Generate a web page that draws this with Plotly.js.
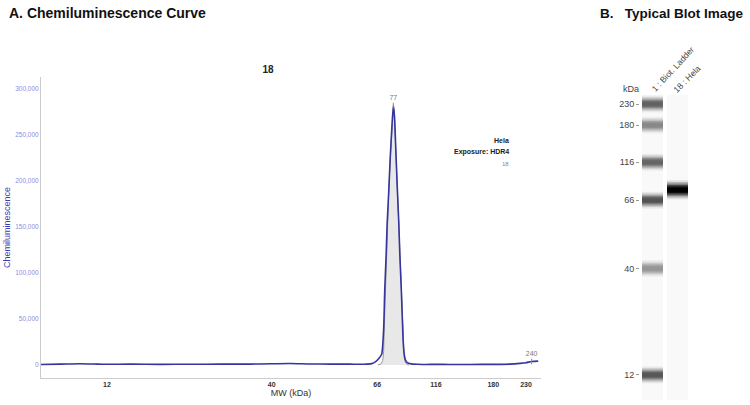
<!DOCTYPE html>
<html>
<head>
<meta charset="utf-8">
<script src="https://cdn.plot.ly/plotly-3.0.1.min.js"></script>
<style>
  html, body { margin: 0; padding: 0; background: #ffffff; }
  #chart { width: 750px; height: 405px; }
</style>
</head>
<body>
<div id="chart"></div>
<script>
// ---------- DATA ----------
// Ladder standards (kDa) and their relative migration (0 = 230 kDa band, 1 = 12 kDa band)
const ladderMW = [230, 180, 116, 66, 40, 12];
const ladderMigration = [0, 0.078, 0.215, 0.355, 0.607, 1.0];
const ladderDarkness = [0.72, 0.52, 0.70, 0.80, 0.45, 0.78];

// Sample lane band (18 : Hela)
const sampleBandMW = [77];
const sampleDarkness = [1.0];

// Blot lanes
const laneLabels = ["1 : Biot. Ladder", "18 : Hela"];

// Electropherogram (sample 18, Hela) : MW (kDa) and chemiluminescence
const curveMW = [7.4, 8.5, 9.8, 11.2, 12, 14.2, 17.7, 22.1, 27.5, 34.3, 40, 43.7, 48.1, 52.9, 58.1,
  61.9, 64.3, 65.6, 67.0, 68.9, 70.2, 70.9, 71.9, 72.6, 73.6, 74.8, 76.1, 77.1, 77.9, 79.1, 80.1,
  81.2, 82.0, 83.2, 84.0, 84.7, 85.5, 86.4, 88.0, 91.4, 97.6, 105, 116, 128.5, 150.3, 180, 204,
  220, 230, 240, 252];
const curveSignal = [600, 900, 1400, 1000, 800, 900, 700, 800, 900, 1000, 1300, 1600, 1100, 1000, 900,
  800, 1500, 4000, 7000, 12000, 40000, 80000, 120000, 154000, 185000, 226000, 262000, 282000, 270000, 226000, 190000,
  154000, 120000, 81000, 50000, 25000, 12000, 6000, 2500, 1200, 800, 600, 700, 600, 600, 700, 1000,
  1800, 2500, 3800, 4200];

// Fitted peak (gray)
const fitMW = [66.4, 68.3, 69.6, 70.2, 70.9, 71.9, 72.6, 73.6, 74.8, 76.1, 77.1, 77.9, 79.1, 80.1,
  81.2, 82.0, 83.2, 84.0, 84.7, 85.5, 86.4, 88.0, 89.7];
const fitSignal = [200, 1000, 5000, 15000, 55000, 110000, 150000, 183000, 224000, 260000, 280000, 268000, 224000, 188000,
  152000, 118000, 78000, 45000, 20000, 8000, 3000, 500, 0];

// Peak labels
const peakMW = [77, 240];
const peakSignal = [282000, 3800];
const peakLabel = ["77", "240"];

const yTicks = [0, 50000, 100000, 150000, 200000, 250000, 300000];

// ---------- MW -> migration (log-linear between ladder standards) ----------
function mwToMig(mw) {
  let i = 0;
  if (mw >= ladderMW[0]) i = 0;
  else if (mw <= ladderMW[ladderMW.length - 1]) i = ladderMW.length - 2;
  else {
    for (let k = 0; k < ladderMW.length - 1; k++) {
      if (mw <= ladderMW[k] && mw >= ladderMW[k + 1]) { i = k; break; }
    }
  }
  const m0 = ladderMW[i], m1 = ladderMW[i + 1];
  const p0 = ladderMigration[i], p1 = ladderMigration[i + 1];
  const f = Math.log(mw / m0) / Math.log(m1 / m0);
  return p0 + f * (p1 - p0);
}

const W = 750, H = 405;
const px = v => v / W;
const py = v => 1 - v / H;

const curveX = curveMW.map(mwToMig);
const fitX = fitMW.map(mwToMig);
const peakX = peakMW.map(mwToMig);

const traces = [];

// fitted peak fill
traces.push({
  type: 'scatter', mode: 'lines', x: fitX, y: fitSignal, xaxis: 'x', yaxis: 'y',
  line: { color: '#9a9a9a', width: 1 }, fill: 'tozeroy', fillcolor: '#e8e8e8',
  hoverinfo: 'skip'
});
// measured curve
traces.push({
  type: 'scatter', mode: 'lines', x: curveX, y: curveSignal, xaxis: 'x', yaxis: 'y',
  line: { color: '#35359c', width: 1.6, shape: 'spline', smoothing: 0.6 },
  hoverinfo: 'skip'
});
// peak labels
traces.push({
  type: 'scatter', mode: 'markers+text', x: peakX, y: peakSignal, xaxis: 'x', yaxis: 'y',
  text: peakLabel, textposition: 'top center',
  textfont: { size: 7, color: '#777777', family: 'Liberation Sans, Arial, sans-serif' },
  marker: { symbol: 'line-ns-open', size: 4, color: '#888888', line: { width: 1, color: '#888888' } },
  hoverinfo: 'skip', cliponaxis: false
});

// blot bands
const ladderMig = ladderMigration;
const sampleMig = sampleBandMW.map(mwToMig);
const gray = d => { const v = Math.round(235 - d * 190); return `rgb(${v},${v},${v})`; };
const grayDark = d => { const v = Math.round(220 - d * 220); return `rgb(${v},${v},${v})`; };

function bandLayers(lane, mig, dark, thick, isSample) {
  const layers = [
    { t: thick * 2.2, op: 0.10 },
    { t: thick * 1.8, op: 0.18 },
    { t: thick * 1.45, op: 0.30 },
    { t: thick * 1.1, op: 0.50 },
    { t: thick * 0.75, op: 0.75 },
    { t: thick * 0.45, op: 1.0 }
  ];
  layers.forEach(L => {
    traces.push({
      type: 'bar', xaxis: 'x2', yaxis: 'y2',
      x: mig.map(() => lane), base: mig.map(m => m - L.t / 2), y: mig.map(() => L.t),
      width: 0.84, opacity: L.op,
      marker: { color: dark.map(isSample ? grayDark : gray), line: { width: 0 } },
      hoverinfo: 'skip'
    });
  });
}
bandLayers(1, ladderMig, ladderDarkness, 0.028, false);
bandLayers(2, sampleMig, sampleDarkness, 0.032, true);

const migTop = -0.0332, migBottom = 1.0923;

const layout = {
  width: W, height: H,
  margin: { l: 0, r: 0, t: 0, b: 0 },
  paper_bgcolor: '#ffffff', plot_bgcolor: '#ffffff',
  showlegend: false,
  barmode: 'overlay',
  font: { family: 'Liberation Sans, Arial, sans-serif', color: '#333333' },
  title: {
    text: '18', x: px(268), xanchor: 'center', y: py(69), yanchor: 'middle',
    font: { size: 10, weight: 'bold', color: '#222222' }
  },
  xaxis: {
    domain: [px(41), px(541)], anchor: 'y',
    range: [1.1575, -0.0358],
    tickvals: ladderMigration, ticktext: ladderMW.map(String),
    tickfont: { size: 7, weight: 'bold', color: '#333333' },
    showline: true, linecolor: '#cccccc', linewidth: 1,
    showgrid: false, zeroline: false, ticks: '',
    title: { text: 'MW (kDa)', font: { size: 9, color: '#333333' }, standoff: 2 }
  },
  yaxis: {
    domain: [1 - 378 / H, 1 - 77 / H], anchor: 'x',
    range: [-14130, 313000],
    tickvals: yTicks, tickformat: ',d',
    tickfont: { size: 6.5, color: '#8c8ce0' },
    showline: true, linecolor: '#cccccc', linewidth: 1,
    showgrid: false, zeroline: false, ticks: '',
    title: { text: 'Chemiluminescence', font: { size: 9, color: '#3b3bb8' }, standoff: 3 }
  },
  xaxis2: {
    domain: [px(640), px(690)], anchor: 'y2',
    range: [0.5, 2.5], showticklabels: false, showgrid: false, zeroline: false, showline: false
  },
  yaxis2: {
    domain: [1 - 400 / H, 1 - 95 / H], anchor: 'x2',
    range: [migBottom, migTop],
    tickvals: ladderMigration, ticktext: ladderMW.map(String),
    ticks: 'outside', ticklen: 3, tickcolor: '#999999', tickwidth: 1,
    tickfont: { size: 9, color: '#444444' },
    showgrid: false, zeroline: false, showline: false
  },
  shapes: [1, 2].map(l => ({
    type: 'rect', xref: 'x2', yref: 'y2', layer: 'below',
    x0: l - 0.42, x1: l + 0.42, y0: migTop, y1: migBottom,
    fillcolor: '#f9f9f9', line: { width: 0 }
  })),
  annotations: [
    { text: 'A. Chemiluminescence Curve', xref: 'paper', yref: 'paper', x: px(7), y: py(13),
      xanchor: 'left', yanchor: 'middle', showarrow: false,
      font: { size: 14, weight: 'bold', color: '#111111' } },
    { text: 'B.\u00a0\u00a0 Typical Blot Image', xref: 'paper', yref: 'paper', x: px(746), y: py(13),
      xanchor: 'right', yanchor: 'middle', showarrow: false,
      font: { size: 13.5, weight: 'bold', color: '#111111' } },
    { text: 'Hela', xref: 'paper', yref: 'paper', x: px(511), y: py(141),
      xanchor: 'right', yanchor: 'middle', showarrow: false,
      font: { size: 7, weight: 'bold', color: '#222222' } },
    { text: 'Exposure: HDR4', xref: 'paper', yref: 'paper', x: px(511), y: py(152),
      xanchor: 'right', yanchor: 'middle', showarrow: false,
      font: { size: 7, weight: 'bold', color: '#222222' } },
    { text: '18', xref: 'paper', yref: 'paper', x: px(511), y: py(164),
      xanchor: 'right', yanchor: 'middle', showarrow: false,
      font: { size: 6, color: '#888888' } },
    { text: 'kDa', xref: 'paper', yref: 'paper', x: px(631), y: py(89),
      xanchor: 'center', yanchor: 'middle', showarrow: false,
      font: { size: 9, color: '#444444' } },
    { text: laneLabels[0], xref: 'paper', yref: 'paper', x: px(673), y: py(69),
      xanchor: 'center', yanchor: 'middle', showarrow: false, textangle: -47,
      font: { size: 8.5, color: '#444444' } },
    { text: laneLabels[1], xref: 'paper', yref: 'paper', x: px(687), y: py(79),
      xanchor: 'center', yanchor: 'middle', showarrow: false, textangle: -45,
      font: { size: 8.5, color: '#444444' } }
  ]
};

Plotly.newPlot('chart', traces, layout, { staticPlot: true, displayModeBar: false });
</script>
</body>
</html>
